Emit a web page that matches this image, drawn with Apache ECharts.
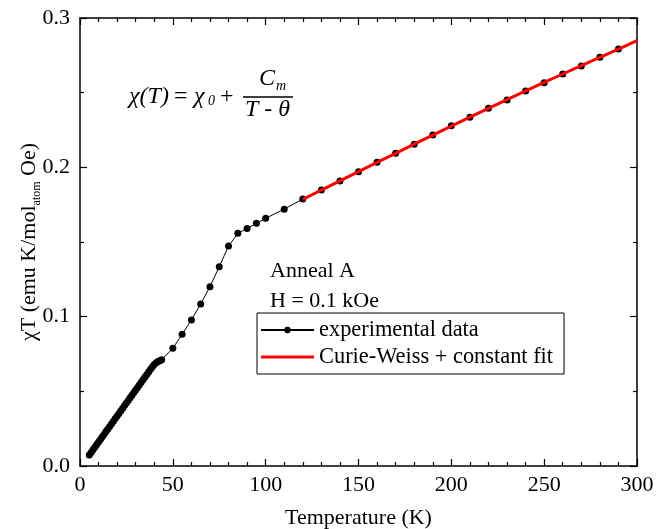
<!DOCTYPE html>
<html>
<head>
<meta charset="utf-8">
<script src="https://cdn.jsdelivr.net/npm/echarts@6/dist/echarts.min.js"></script>
<style>
  html, body { margin: 0; padding: 0; background: #fff; }
  #chart { width: 668px; height: 529px; }
</style>
</head>
<body>
<div id="chart"></div>
<script>
// Measured susceptibility times temperature, chi*T, for Anneal A at H = 0.1 kOe
const tempK = [
  5, 6, 7, 8, 9, 10, 11, 12, 13, 14, 15, 16, 17, 18, 19, 20, 21, 22, 23, 24,
  25, 26, 27, 28, 29, 30, 31, 32, 33, 34, 35, 36, 37, 38, 39, 40, 41, 42, 43, 44,
  50, 55, 60, 65, 70, 75, 80, 85, 90, 95, 100, 110,
  120, 130, 140, 150, 160, 170, 180, 190, 200, 210, 220, 230, 240, 250, 260, 270, 280, 290
];
const chiT = [
  0.0074, 0.0091, 0.0109, 0.0126, 0.0144, 0.0161, 0.0178, 0.0196, 0.0213, 0.0231,
  0.0248, 0.0265, 0.0283, 0.0300, 0.0318, 0.0335, 0.0352, 0.0370, 0.0387, 0.0405,
  0.0422, 0.0439, 0.0457, 0.0474, 0.0492, 0.0509, 0.0526, 0.0544, 0.0561, 0.0579,
  0.0596, 0.0613, 0.0631, 0.0648, 0.0664, 0.0680, 0.0692, 0.0699, 0.0704, 0.0712,
  0.0788, 0.0882, 0.0978, 0.1085, 0.1200, 0.1335, 0.1473, 0.1558, 0.1591, 0.1625, 0.1659, 0.1720,
  0.1788, 0.1848, 0.1909, 0.1971, 0.2034, 0.2094, 0.2154, 0.2217, 0.2279, 0.2335,
  0.2395, 0.2451, 0.2511, 0.2567, 0.2625, 0.2679, 0.2737, 0.2792
];

// Curie-Weiss + constant fit, evaluated over 120-300 K
const fitT = [120, 130, 140, 150, 160, 170, 180, 190, 200, 210, 220, 230, 240, 250, 260, 270, 280, 290, 300];
const fitChiT = [
  0.1786, 0.1848, 0.1909, 0.1971, 0.2033, 0.2094, 0.2155, 0.2216, 0.2276, 0.2336,
  0.2395, 0.2454, 0.2512, 0.2569, 0.2625, 0.2681, 0.2737, 0.2792, 0.2848
];

const xTicks = { min: 0, max: 300, interval: 50 };
const yTicks = { min: 0, max: 0.3, interval: 0.1 };

const seriesNames = ['experimental data', 'Curie-Weiss + constant fit'];
const annotation = ['Anneal A', 'H = 0.1 kOe'];

const SERIF = '"Liberation Serif", "Times New Roman", serif';

const zip = (a, b) => a.map((v, i) => [v, b[i]]);

const axisCommon = {
  axisLine: { show: true, onZero: false, lineStyle: { color: '#000', width: 1.5 } },
  axisTick: { show: true, inside: true, length: 7, lineStyle: { color: '#000', width: 1.2 } },
  minorTick: { show: true, length: 4, lineStyle: { color: '#000', width: 1.2 } },
  splitLine: { show: false }
};

const chart = echarts.init(document.getElementById('chart'), null, { renderer: 'canvas' });

chart.setOption({
  animation: false,
  backgroundColor: '#fff',
  grid: { left: 80, right: 31, top: 18, bottom: 63, containLabel: false, outerBoundsMode: 'none' },
  xAxis: [
    Object.assign({}, axisCommon, {
      type: 'value', position: 'bottom',
      min: xTicks.min, max: xTicks.max, interval: xTicks.interval,
      minorTick: Object.assign({}, axisCommon.minorTick, { splitNumber: 5 }),
      axisLabel: { color: '#000', fontFamily: SERIF, fontSize: 22, margin: 8 },
      name: 'Temperature (K)', nameLocation: 'middle', nameGap: 41, nameMoveOverlap: false,
      nameTextStyle: { color: '#000', fontFamily: SERIF, fontSize: 22 }
    }),
    Object.assign({}, axisCommon, {
      type: 'value', position: 'top',
      min: xTicks.min, max: xTicks.max, interval: xTicks.interval,
      minorTick: Object.assign({}, axisCommon.minorTick, { splitNumber: 5 }),
      axisLabel: { show: false }
    })
  ],
  yAxis: [
    Object.assign({}, axisCommon, {
      type: 'value', position: 'left',
      min: yTicks.min, max: yTicks.max, interval: yTicks.interval,
      minorTick: Object.assign({}, axisCommon.minorTick, { splitNumber: 2 }),
      axisLabel: {
        color: '#000', fontFamily: SERIF, fontSize: 22, margin: 10,
        formatter: v => v.toFixed(1)
      },
      name: '{m|χT (emu K/mol}{s|atom}{m| Oe)}',
      nameLocation: 'middle', nameGap: 37, nameRotate: 90, nameMoveOverlap: false,
      nameTextStyle: {
        color: '#000', fontFamily: SERIF, fontSize: 22,
        rich: {
          m: { fontFamily: SERIF, fontSize: 22, lineHeight: 28, color: '#000', verticalAlign: 'middle' },
          s: { fontFamily: SERIF, fontSize: 12, lineHeight: 28, color: '#000', verticalAlign: 'bottom' }
        }
      }
    }),
    Object.assign({}, axisCommon, {
      type: 'value', position: 'right',
      min: yTicks.min, max: yTicks.max, interval: yTicks.interval,
      minorTick: Object.assign({}, axisCommon.minorTick, { splitNumber: 2 }),
      axisLabel: { show: false }
    })
  ],
  legend: {
    orient: 'vertical',
    left: 257, top: 313,
    padding: [5, 11, 5, 3],
    itemGap: 3,
    itemWidth: 53, itemHeight: 8,
    symbolKeepAspect: true,
    borderColor: '#000', borderWidth: 1,
    backgroundColor: '#fff',
    textStyle: { color: '#000', fontFamily: SERIF, fontSize: 22.4, lineHeight: 24 },
    data: [
      { name: seriesNames[0] },
      { name: seriesNames[1], icon: 'path://M0,0H53V3H0Z' }
    ]
  },
  series: [
    {
      name: seriesNames[0],
      type: 'line',
      data: zip(tempK, chiT),
      symbol: 'circle',
      symbolSize: 7,
      showAllSymbol: true,
      itemStyle: { color: '#000' },
      lineStyle: { color: '#000', width: 1 },
      z: 2
    },
    {
      name: seriesNames[1],
      type: 'line',
      data: zip(fitT, fitChiT),
      symbol: 'none',
      itemStyle: { color: '#ff0000' },
      lineStyle: { color: '#ff0000', width: 3 },
      z: 3
    }
  ],
  graphic: [
    // chi(T) = chi_0 + C_m / (T - theta)
    { type: 'text', left: 129, top: 85, style: { text: 'χ(T)', font: 'italic 24px ' + SERIF, fill: '#000' } },
    { type: 'text', left: 174, top: 85, style: { text: '=', font: '24px ' + SERIF, fill: '#000' } },
    { type: 'text', left: 194, top: 85, style: { text: 'χ', font: 'italic 24px ' + SERIF, fill: '#000' } },
    { type: 'text', left: 208, top: 94, style: { text: '0', font: 'italic 14px ' + SERIF, fill: '#000' } },
    { type: 'text', left: 220, top: 85, style: { text: '+', font: '24px ' + SERIF, fill: '#000' } },
    { type: 'text', left: 259, top: 67, style: { text: 'C', font: 'italic 24px ' + SERIF, fill: '#000' } },
    { type: 'text', left: 276, top: 79, style: { text: 'm', font: 'italic 14px ' + SERIF, fill: '#000' } },
    { type: 'line', shape: { x1: 243, y1: 97, x2: 293, y2: 97 }, style: { stroke: '#000', lineWidth: 1.3 } },
    { type: 'text', left: 245, top: 98, style: { text: 'T - θ', font: 'italic 24px ' + SERIF, fill: '#000' } },
    // sample description
    { type: 'text', left: 270, top: 260, style: { text: annotation[0], font: '22px ' + SERIF, fill: '#000' } },
    { type: 'text', left: 270, top: 290, style: { text: annotation[1], font: '22px ' + SERIF, fill: '#000' } }
  ]
});
</script>
</body>
</html>
